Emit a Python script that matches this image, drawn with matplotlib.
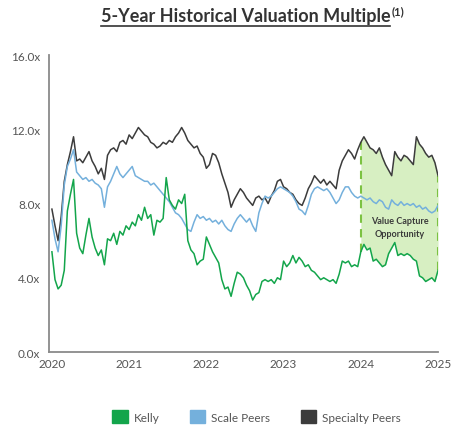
import matplotlib
matplotlib.use("Agg")
import matplotlib.pyplot as plt
from matplotlib.patches import Patch
from matplotlib.lines import Line2D
import numpy as np

plt.rcParams['font.family'] = ['Lato', 'DejaVu Sans']

# dates as fractional years, one point roughly every two weeks
dates = 2020 + 0.04 * np.arange(126)

kelly = [5.4, 3.9, 3.4, 3.6, 4.4, 7.6, 8.5, 9.3, 6.4, 5.6,
         5.3, 6.3, 7.2, 6.2, 5.6, 5.2, 5.5, 4.7, 6.1, 6.0,
         6.4, 5.8, 6.5, 6.3, 6.8, 6.6, 7.0, 6.8, 7.4, 7.1,
         7.8, 7.2, 7.4, 6.3, 7.1, 7.0, 7.2, 9.4, 8.2, 7.9,
         7.7, 8.2, 8.0, 8.5, 6.0, 5.5, 5.3, 4.7, 4.9, 5.0,
         6.2, 5.8, 5.4, 5.1, 4.8, 3.9, 3.4, 3.5, 3.0, 3.7,
         4.3, 4.2, 4.0, 3.6, 3.3, 2.8, 3.1, 3.2, 3.8, 3.9,
         3.8, 3.9, 3.7, 4.0, 3.9, 4.9, 4.6, 4.8, 5.2, 4.8,
         5.1, 4.9, 4.6, 4.7, 4.4, 4.3, 4.1, 3.9, 4.0, 3.9,
         3.8, 3.9, 3.7, 4.2, 4.9, 4.8, 4.9, 4.6, 4.7, 4.6,
         5.4, 5.8, 5.5, 5.6, 4.9, 5.0, 4.8, 4.6, 4.7, 5.3,
         5.6, 5.9, 5.2, 5.3, 5.2, 5.3, 5.2, 5.0, 4.9, 4.1,
         4.0, 3.8, 3.9, 4.0, 3.8, 4.4]

scale_peers = [7.1, 6.1, 5.4, 6.8, 9.0, 10.0, 10.4, 10.9, 9.7, 9.5,
               9.3, 9.4, 9.2, 9.3, 9.1, 9.0, 8.8, 7.8, 8.9, 9.2,
               9.6, 10.0, 9.6, 9.4, 9.6, 9.8, 10.0, 9.5, 9.4, 9.3,
               9.2, 9.2, 9.0, 9.1, 8.9, 8.7, 8.5, 8.3, 8.1, 7.8,
               7.5, 7.4, 7.2, 6.9, 6.6, 6.5, 7.0, 7.4, 7.2, 7.3,
               7.1, 7.2, 7.0, 7.1, 6.9, 7.1, 6.8, 6.6, 6.5, 6.9,
               7.2, 7.4, 7.2, 7.0, 7.2, 6.8, 6.5, 7.5, 8.0, 8.4,
               8.3, 8.4, 8.6, 8.8, 8.9, 8.8, 8.7, 8.6, 8.4, 8.1,
               7.7, 7.6, 7.4, 7.9, 8.5, 8.8, 8.9, 8.8, 8.7, 8.8,
               8.6, 8.3, 8.0, 8.2, 8.6, 8.9, 8.9, 8.6, 8.4, 8.3,
               8.4, 8.3, 8.2, 8.3, 8.1, 8.0, 8.2, 8.1, 7.8, 7.7,
               8.2, 8.0, 7.9, 8.1, 7.9, 8.0, 7.9, 8.0, 7.8, 7.9,
               7.7, 7.8, 7.6, 7.5, 7.6, 7.9]

specialty_peers = [7.7, 6.8, 6.0, 7.3, 9.2, 10.1, 10.8, 11.6, 10.3, 10.4,
                   10.2, 10.5, 10.8, 10.3, 10.0, 9.6, 9.9, 9.3, 10.6, 10.9,
                   11.0, 10.8, 11.3, 11.4, 11.2, 11.7, 11.5, 11.8, 12.1, 11.9,
                   11.7, 11.6, 11.3, 11.2, 11.0, 11.1, 11.3, 11.2, 11.4, 11.3,
                   11.6, 11.8, 12.1, 11.8, 11.4, 11.2, 11.0, 11.1, 10.7, 10.5,
                   9.9, 10.1, 10.7, 10.6, 10.2, 9.6, 9.1, 8.6, 7.8, 8.2,
                   8.5, 8.8, 8.6, 8.3, 8.1, 7.9, 8.3, 8.4, 8.2, 8.3,
                   8.0, 8.4, 8.7, 9.2, 9.3, 8.9, 8.8, 8.6, 8.5, 8.2,
                   8.0, 7.9, 8.3, 8.8, 9.1, 9.5, 9.3, 9.1, 9.3, 9.0,
                   9.2, 9.0, 8.8, 9.8, 10.3, 10.6, 10.9, 10.7, 10.4, 10.9,
                   11.3, 11.6, 11.3, 11.0, 10.9, 10.7, 11.0, 10.5, 10.1, 9.8,
                   9.5, 10.8, 10.5, 10.3, 10.6, 10.5, 10.3, 10.1, 11.6, 11.2,
                   11.0, 10.7, 10.5, 10.6, 10.2, 9.5]

year_ticks = [2020, 2021, 2022, 2023, 2024, 2025]
value_ticks = [0, 4, 8, 12, 16]
gap_start = 2024.0

GREEN = '#13a54b'
BLUE = '#74b0dc'
DARK = '#3c3c3c'

fig = plt.figure(figsize=(4.65, 4.35), dpi=100)
ax = fig.add_axes([0.105, 0.1885, 0.837, 0.6825])

kelly = np.array(kelly)
specialty_peers = np.array(specialty_peers)
mask = dates >= gap_start - 1e-9

# shaded gap between Kelly and Specialty Peers
ax.fill_between(dates[mask], kelly[mask], specialty_peers[mask],
                color='#d7efc2', zorder=1, lw=0)
for i in [np.argmax(mask), len(dates) - 1]:
    ax.plot([dates[i], dates[i]], [kelly[i], specialty_peers[i]],
            color='#7cc242', lw=1.5, ls=(0, (4, 3)), zorder=2)

ax.plot(dates, specialty_peers, color=DARK, lw=1.1, zorder=3)
ax.plot(dates, scale_peers, color=BLUE, lw=1.1, zorder=4)
ax.plot(dates, kelly, color=GREEN, lw=1.1, zorder=5)

ax.text(2024.5, 7.1, 'Value Capture', ha='center', va='center',
        fontsize=6.5, fontweight='bold', color='#3a3a3a', zorder=6)
ax.text(2024.5, 6.4, 'Opportunity', ha='center', va='center',
        fontsize=6.5, fontweight='bold', color='#3a3a3a', zorder=6)

ax.set_xlim(2019.96, 2025.0)
ax.set_ylim(0, 16)
ax.set_xticks(year_ticks)
ax.set_xticklabels([str(y) for y in year_ticks])
ax.set_yticks(value_ticks)
ax.set_yticklabels(['%.1fx' % v for v in value_ticks])
ax.tick_params(length=0, labelsize=8.5, labelcolor='#555555', pad=6)
ax.tick_params(axis='x', pad=4)
for s in ['top', 'right']:
    ax.spines[s].set_visible(False)
for s in ['left', 'bottom']:
    ax.spines[s].set_color('#8a8a8a')
    ax.spines[s].set_linewidth(1.3)

# title with underline and superscript
title = fig.text(0.528, 0.962, '5-Year Historical Valuation Multiple', ha='center',
                 va='center', fontsize=13, fontweight='bold', color='#333333')
fig.canvas.draw()
bb = title.get_window_extent().transformed(fig.transFigure.inverted())
fig.add_artist(Line2D([bb.x0, bb.x1], [bb.y0 - 0.004, bb.y0 - 0.004],
                      color='#333333', lw=1.2, transform=fig.transFigure))
fig.text(bb.x1 + 0.003, bb.y1 + 0.004, '(1)', ha='left', va='top',
         fontsize=8, fontweight='bold', color='#333333')

handles = [Patch(color=GREEN, label='Kelly'),
           Patch(color=BLUE, label='Scale Peers'),
           Patch(color=DARK, label='Specialty Peers')]
leg = fig.legend(handles=handles, loc='center', bbox_to_anchor=(0.552, 0.04),
                 ncol=3, frameon=False, fontsize=8.5, handlelength=1.3,
                 handleheight=1.3, columnspacing=2.6, handletextpad=0.5)
for t in leg.get_texts():
    t.set_color('#555555')

fig.savefig('out.png', dpi=100)
